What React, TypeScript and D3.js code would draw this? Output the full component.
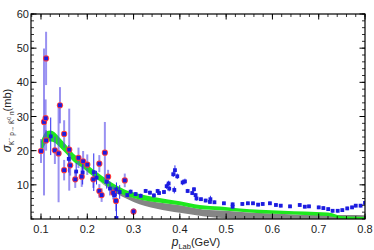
import * as d3 from 'd3';

// old data set (red rings) : p_Lab, sigma, error
const oldP = [0.100, 0.1065, 0.110, 0.111, 0.111, 0.130, 0.138, 0.141, 0.150, 0.150, 0.161, 0.163, 0.174, 0.181, 0.188, 0.191, 0.200, 0.213, 0.226, 0.226, 0.231, 0.238, 0.245, 0.256, 0.262, 0.281, 0.300];
const oldV = [19.9, 28.4, 29.5, 47.0, 23.0, 20.1, 19.2, 33.3, 24.9, 14.3, 20.3, 15.7, 11.6, 17.9, 12.4, 16.9, 15.9, 11.6, 16.2, 8.2, 7.0, 19.4, 12.4, 7.7, 5.3, 11.3, 2.2];
const oldErr = [3.5, 21.5, 5.5, 7.8, 3, 4, 14.3, 5.3, 4, 3, 12, 3, 2.5, 3, 3, 3, 3, 2.5, 2.5, 2, 2, 9, 2, 2, 3, 2, 1];

// newer data set (blue squares)
const newP = [0.121, 0.160, 0.176, 0.190, 0.214, 0.220, 0.242, 0.249, 0.258, 0.263, 0.263, 0.270, 0.2864, 0.2937, 0.3045, 0.3153, 0.3261, 0.3354, 0.344, 0.352, 0.355, 0.3657, 0.3715, 0.3758, 0.377, 0.3857, 0.3894, 0.3944, 0.388, 0.406, 0.411, 0.4168, 0.4268, 0.4305, 0.434, 0.436, 0.4456, 0.4557, 0.466, 0.465, 0.4747, 0.4952, 0.514, 0.514, 0.535, 0.547, 0.558, 0.569, 0.579, 0.5946, 0.6076, 0.618, 0.638, 0.659, 0.670, 0.679, 0.700, 0.710, 0.7205, 0.730, 0.741, 0.751, 0.7616, 0.772, 0.780, 0.7905, 0.800];
const newV = [24.2, 17.6, 13.9, 13.6, 13.7, 12.1, 10.9, 8.9, 7.0, 8.7, 0.3, 7.9, 7.0, 8.0, 7.3, 6.8, 8.2, 7.7, 6.9, 8.2, 7.6, 7.9, 9.6, 10.4, 8.9, 13.1, 14.3, 12.5, 8.5, 10.7, 11.0, 8.2, 7.6, 8.7, 7.0, 6.0, 5.8, 5.4, 5.8, 5.0, 4.9, 4.6, 4.3, 3.6, 4.4, 4.6, 4.6, 4.2, 4.4, 4.6, 4.1, 3.9, 3.7, 4.1, 3.6, 3.7, 3.4, 3.2, 2.9, 2.4, 2.4, 2.6, 3.1, 3.4, 3.9, 3.9, 4.7];
const newErr = [5.5, 4, 2.5, 3.5, 5.5, 2, 2, 2, 2, 2, 5, 2, 0.6, 0.6, 0.6, 0.6, 0.6, 0.6, 0.6, 0.6, 0.6, 0.6, 0.8, 0.8, 0.8, 0.8, 1.4, 0.8, 1, 0.8, 0.8, 0.6, 0.6, 0.6, 0.6, 0.6, 0.5, 0.5, 1, 0.5, 0.5, 0.5, 0.5, 0.5, 0.5, 0.5, 0.5, 0.5, 0.5, 0.5, 0.5, 0.5, 0.5, 0.5, 0.5, 0.5, 0.5, 0.5, 0.5, 0.5, 0.5, 0.5, 0.5, 0.5, 0.5, 0.5, 0.5];

// theory band (green)
const greenP = [0.1, 0.105, 0.112, 0.12, 0.13, 0.141, 0.155, 0.17, 0.19, 0.206, 0.23, 0.25, 0.271, 0.29, 0.31, 0.35, 0.4, 0.443, 0.487, 0.53, 0.573, 0.623, 0.67, 0.72, 0.757, 0.8];
const greenUpper = [22.8, 24.4, 25.7, 25.9, 25.3, 23.7, 21.6, 19.2, 17.1, 15.2, 12.8, 10.9, 9.3, 8.1, 7.4, 6.3, 5.2, 4.1, 3.65, 3.1, 2.7, 2.45, 2.2, 1.9, 0.7, 0.6];
const greenLower = [19.2, 20.8, 22.3, 22.7, 22.3, 20.9, 19.0, 16.8, 14.9, 13.2, 10.8, 9.1, 7.5, 6.5, 5.8, 4.9, 4.0, 2.9, 2.55, 2.1, 1.7, 1.45, 1.2, 0.9, 0.0, 0.0];

// second band (gray)
const grayP = [0.22, 0.25, 0.3, 0.35, 0.4, 0.45, 0.5, 0.55, 0.6, 0.65, 0.72, 0.76, 0.8];
const grayUpper = [11.7, 9.1, 6.2, 4.9, 4.0, 2.8, 2.4, 1.9, 1.6, 1.35, 1.2, 1.2, 1.1];
const grayLower = [11.7, 8.6, 5.0, 3.0, 1.8, 0.8, 0.2, 0, 0, 0, 0, 0, 0];

const xTicks = [0.1, 0.2, 0.3, 0.4, 0.5, 0.6, 0.7, 0.8];
const yTicks = [10, 20, 30, 40, 50, 60];

const width = 374;
const height = 250;
const margin = { top: 14, right: 9, bottom: 31, left: 31 };

export default function App() {
  const x = d3.scaleLinear().domain([0.0784, 0.8]).range([margin.left, width - margin.right]);
  const y = d3.scaleLinear().domain([0, 60]).range([height - margin.bottom, margin.top]);
  const x0 = margin.left, x1 = width - margin.right, y0 = margin.top, y1 = height - margin.bottom;

  const greenPath = d3.area<number>()
    .curve(d3.curveMonotoneX)
    .x((_, i) => x(greenP[i]))
    .y0((_, i) => y(greenLower[i]))
    .y1((_, i) => y(greenUpper[i]))(greenP);
  const grayPath = d3.area<number>()
    .curve(d3.curveMonotoneX)
    .x((_, i) => x(grayP[i]))
    .y0((_, i) => y(grayLower[i]))
    .y1((_, i) => y(grayUpper[i]))(grayP);

  const minorX = d3.range(0.08, 0.801, 0.02);
  const minorY = d3.range(0, 60.01, 2);

  const font = 'Liberation Sans, Arial, sans-serif';

  return (
    <svg width={width} height={height} style={{ position: 'absolute', left: 0, top: 0 }} fontFamily={font}>
      <defs>
        <clipPath id="plot">
          <rect x={x0} y={y0} width={x1 - x0} height={y1 - y0} />
        </clipPath>
      </defs>
      <g clipPath="url(#plot)">
        <path d={grayPath || ''} fill="#858585" />
        <path d={greenPath || ''} fill="#1ee81e" />
        {/* error bars */}
        {oldP.map((p, i) => (
          <line key={'oe' + i} x1={x(p)} x2={x(p)} y1={y(oldV[i] - oldErr[i])} y2={y(oldV[i] + oldErr[i])}
            stroke="#5548e8" strokeOpacity={0.6} strokeWidth={2} />
        ))}
        {newP.map((p, i) => (
          <line key={'ne' + i} x1={x(p)} x2={x(p)} y1={y(newV[i] - newErr[i])} y2={y(newV[i] + newErr[i])}
            stroke="#2a2af0" strokeWidth={1} />
        ))}
        {/* points */}
        {oldP.map((p, i) => (
          <g key={'op' + i}>
            <circle cx={x(p)} cy={y(oldV[i])} r={3.1} fill="#ff3a3a" />
            <rect x={x(p) - 1.9} y={y(oldV[i]) - 1.9} width={3.8} height={3.8} fill="#1c1ce0" />
          </g>
        ))}
        {newP.map((p, i) => (
          <rect key={'np' + i} x={x(p) - 1.9} y={y(newV[i]) - 1.9} width={3.8} height={3.8} fill="#1c1ce0" />
        ))}
      </g>

      {/* frame */}
      <rect x={x0} y={y0} width={x1 - x0} height={y1 - y0} fill="none" stroke="#000" strokeWidth={1.2} />
      {minorX.map((t, i) => (
        <g key={'mx' + i} stroke="#000" strokeWidth={0.8}>
          <line x1={x(t)} x2={x(t)} y1={y1} y2={y1 - 3} />
          <line x1={x(t)} x2={x(t)} y1={y0} y2={y0 + 3} />
        </g>
      ))}
      {xTicks.map((t) => (
        <g key={'x' + t} stroke="#000" strokeWidth={1}>
          <line x1={x(t)} x2={x(t)} y1={y1} y2={y1 - 5.5} />
          <line x1={x(t)} x2={x(t)} y1={y0} y2={y0 + 5.5} />
        </g>
      ))}
      {minorY.map((t, i) => (
        <g key={'my' + i} stroke="#000" strokeWidth={0.8}>
          <line x1={x0} x2={x0 + 3} y1={y(t)} y2={y(t)} />
          <line x1={x1} x2={x1 - 3} y1={y(t)} y2={y(t)} />
        </g>
      ))}
      {yTicks.map((t) => (
        <g key={'y' + t} stroke="#000" strokeWidth={1}>
          <line x1={x0} x2={x0 + 5.5} y1={y(t)} y2={y(t)} />
          <line x1={x1} x2={x1 - 5.5} y1={y(t)} y2={y(t)} />
        </g>
      ))}
      {xTicks.map((t) => (
        <text key={'xl' + t} x={x(t)} y={y1 + 14} textAnchor="middle" fontSize={11} fill="#222">
          {d3.format('.1f')(t)}
        </text>
      ))}
      {yTicks.map((t) => (
        <text key={'yl' + t} x={x0 - 2} y={y(t) + 4} textAnchor="end" fontSize={11} fill="#222">
          {t}
        </text>
      ))}

      {/* axis titles */}
      <text x={196} y={246} textAnchor="middle" fontSize={11} fill="#222">
        <tspan fontStyle="italic" fontSize={12}>p</tspan>
        <tspan fontSize={7.5} dy={2.5}>Lab</tspan>
        <tspan dy={-2.5}>(GeV)</tspan>
      </text>
      <text transform={`translate(11,${(y0 + y1) / 2 + 4}) rotate(-90)`} textAnchor="middle" fontSize={11} fill="#222">
        <tspan fontStyle="italic" fontSize={12}>σ</tspan>
        <tspan fontSize={6.5} dy={2.5}>K</tspan>
        <tspan fontSize={5} dy={-3}>−</tspan>
        <tspan fontSize={6.5} dy={3}> p→ K̄</tspan>
        <tspan fontSize={5} dy={-3}>0</tspan>
        <tspan fontSize={6.5} dy={3}> n</tspan>
        <tspan dy={-2.5}>(mb)</tspan>
      </text>
    </svg>
  );
}
